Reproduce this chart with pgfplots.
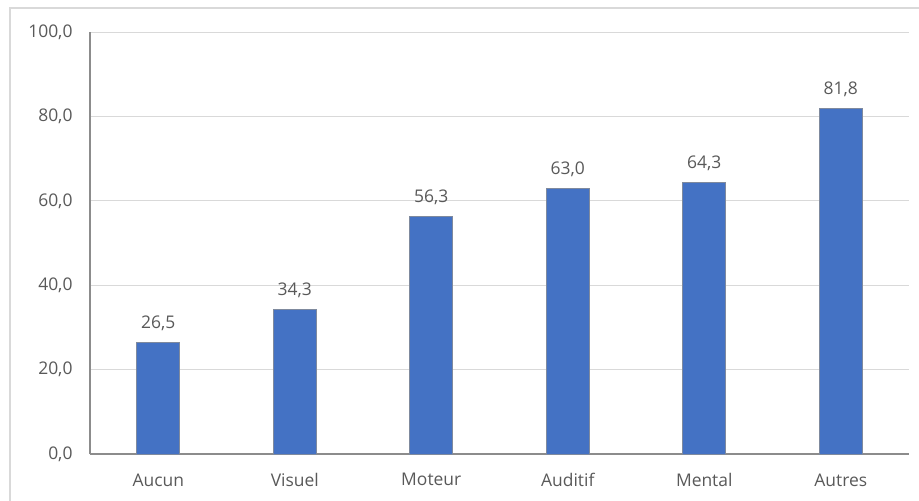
\documentclass[border=0pt]{standalone}
\usepackage{fontspec}
\setmainfont{Open Sans}
\usepackage{pgfplots}
\pgfplotsset{compat=1.18}

\definecolor{barblue}{HTML}{4472C4}
\definecolor{baredge}{HTML}{7F8A9E}
\definecolor{textgray}{HTML}{595959}
\definecolor{gridgray}{HTML}{D9D9D9}
\definecolor{axisgray}{HTML}{8C8C8C}
\definecolor{framegray}{HTML}{D9D9D9}

\begin{document}
\begin{tikzpicture}
% page frame and chart-area border
\path[use as bounding box] (0bp,0bp) rectangle (919bp,-501bp);
\draw[framegray, line width=1.2bp] (10bp,-501bp) -- (10bp,-8bp) -- (919bp,-8bp);

\begin{axis}[
  at={(90bp,-454bp)}, anchor=south west,
  scale only axis, width=819bp, height=422bp,
  xmin=-0.5, xmax=5.5, ymin=0, ymax=100,
  xtick={0,...,5},
  xticklabels={Aucun,Visuel,Moteur,Auditif,Mental,Autres},
  ytick={0,20,...,100},
  axis lines*=left,
  axis line style={axisgray, line width=1.2bp},
  ymajorgrids,
  grid style={gridgray, line width=1bp},
  major tick length=0pt,
  tick label style={font=\fontsize{17.5}{20}\selectfont, text=textgray},
  yticklabel style={xshift=-14bp},
  xticklabel style={yshift=-16bp},
  /pgf/number format/assume math mode=true,
  yticklabel={\pgfmathprintnumber[fixed,fixed zerofill,precision=1,use comma]{\tick}},
  ybar, bar width=43bp,
  nodes near coords={\pgfmathprintnumber[fixed,fixed zerofill,precision=1,use comma]{\pgfplotspointmeta}},
  every node near coord/.append style={font=\fontsize{17.5}{20}\selectfont, text=textgray, yshift=8bp},
]
\addplot[fill=barblue, draw=baredge, line width=0.8bp] coordinates {
  (0,26.5) (1,34.3) (2,56.3) (3,63.0) (4,64.3) (5,81.8)
};
\end{axis}
\end{tikzpicture}
\end{document}
